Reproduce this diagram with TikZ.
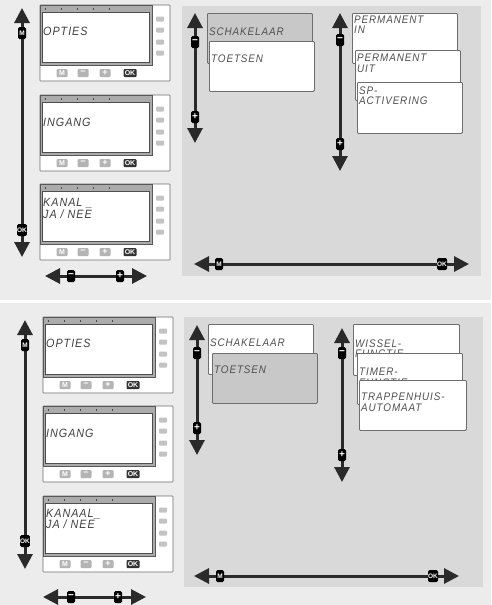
\documentclass[tikz,border=0pt]{standalone}
\usepackage{fontspec}
\setsansfont{Liberation Sans}
\newfontfamily\lcdfont[LetterSpace=8,FakeStretch=0.9]{Liberation Sans}
\usetikzlibrary{arrows.meta}

\definecolor{pagegray}{HTML}{ECECEC}
\definecolor{panelgray}{HTML}{D9D9D9}
\definecolor{boxgray}{HTML}{C8C8C8}
\definecolor{framegray}{HTML}{6E6E6E}
\definecolor{inkgray}{HTML}{505050}
\definecolor{bezelgray}{HTML}{ABABAB}
\definecolor{keygray}{HTML}{B4B4B4}
\definecolor{arrowdark}{HTML}{2A2A2A}

\tikzset{
  navline/.style={line width=3pt, draw=arrowdark,
    {Triangle[width=15pt,length=15pt]}-{Triangle[width=15pt,length=15pt]}},
  keytag/.style={fill=black, rounded corners=1.5pt, minimum width=8pt,
    minimum height=12pt, inner sep=0pt, text=white,
    font=\sffamily\bfseries\fontsize{6.5}{6.5}\selectfont},
  signtag/.style={keytag, font=\sffamily\bfseries\fontsize{10}{10}\selectfont},
  menubox/.style={draw=framegray, line width=0.8pt, fill=white,
    rounded corners=1pt, minimum width=105pt, minimum height=50pt,
    anchor=north west, inner sep=0pt},
  menutext/.style={anchor=west, inner sep=0pt, text=inkgray, align=left,
    font=\lcdfont\itshape\fontsize{11}{10.5}\selectfont},
  lcdtext/.style={anchor=west, inner sep=0pt, text=inkgray!80!black, align=left,
    font=\lcdfont\itshape\fontsize{12}{11.5}\selectfont},
  unitframe/.style={draw=framegray, line width=0.6pt, fill=white, rounded corners=0.5pt},
  bezel/.style={draw=framegray!80!black, line width=0.7pt, fill=bezelgray},
  screen/.style={draw=framegray!70!black, line width=0.5pt, fill=white},
  tickmark/.style={draw=black!70, line width=0.6pt},
  sidekey/.style={fill=keygray!80, rounded corners=1pt},
  unitkey/.style={fill=keygray, rounded corners=1pt, minimum width=11pt,
    minimum height=8pt, inner sep=0pt, text=white,
    font=\sffamily\bfseries\fontsize{7}{7}\selectfont}
}

% one control unit: name, origin, text height, screen text
\newcommand{\ctrlunit}[4]{%
  \begin{scope}[shift={#2}]
    \draw[unitframe] (0,0) rectangle (130,76);
    \draw[bezel] (0,0) rectangle (112,60);
    \draw[screen] (2,7) rectangle (109,57);
    \foreach \t in {5,21,37,53,69} \draw[tickmark] (\t,3) -- (\t,5);
    \foreach \b in {14,25,37,48} \fill[sidekey] (116,\b-2.5) rectangle (124,\b+2.5);
    \node[unitkey] (#1-m) at (22,68) {M};
    \node[unitkey, font=\sffamily\bfseries\fontsize{9}{9}\selectfont] (#1-minus) at (43,68) {−};
    \node[unitkey, font=\sffamily\bfseries\fontsize{9}{9}\selectfont] (#1-plus) at (65,68) {+};
    \node[unitkey, fill=black!80, minimum width=13pt] (#1-ok) at (90,68) {OK};
    \node[lcdtext] (#1-text) at (3,#3) {#4};
  \end{scope}}

\begin{document}
\begin{tikzpicture}[x=1pt,y=-1pt]
  % page and panels
  \fill[pagegray] (0,0) rectangle (491,605);
  \fill[white] (0,299.5) rectangle (491,302.5);
  \fill[panelgray] (182,6) rectangle (481,276);
  \fill[panelgray] (184,317) rectangle (483,587);
  \useasboundingbox (0,0) rectangle (491,605);

  % ---- upper half ----
  \ctrlunit{ua}{(40,5)}{26}{OPTIES}
  \ctrlunit{ub}{(40,95)}{27}{INGANG}
  \ctrlunit{uc}{(40,184)}{24.5}{KANAL~\_\\JA / NEE}

  \coordinate (ul-top) at (22,8);
  \coordinate (ul-bot) at (22,257);
  \draw[navline] (ul-top) -- (ul-bot);
  \node[keytag] (ul-m) at (22,33) {M};
  \node[keytag, minimum width=9pt] (ul-ok) at (22,230) {OK};

  \coordinate (uh-left) at (45,276);
  \coordinate (uh-right) at (147,276);
  \draw[navline] (uh-left) -- (uh-right);
  \node[signtag] (uh-minus) at (71,276) {−};
  \node[signtag] (uh-plus) at (120,276) {+};

  \node[menubox, fill=boxgray] (u-schak) at (207,13) {};
  \node[menutext] at (209,32) {SCHAKELAAR};
  \node[menubox] (u-toets) at (209,41) {};
  \node[menutext] at (211,59) {TOETSEN};

  \node[menubox] (u-permin) at (352,13) {};
  \node[menutext] at (354,24.5) {PERMANENT\\IN};
  \node[menubox] (u-permuit) at (355,50) {};
  \node[menutext] at (357,63.5) {PERMANENT\\UIT};
  \node[menubox, minimum height=51pt] (u-spact) at (357,82) {};
  \node[menutext] at (359,95.5) {SP-\\ACTIVERING};

  \coordinate (uv1-top) at (195,13);
  \coordinate (uv1-bot) at (195,143);
  \draw[navline] (uv1-top) -- (uv1-bot);
  \node[signtag] (uv1-minus) at (195,42) {−};
  \node[signtag] (uv1-plus) at (195,117) {+};

  \coordinate (uv2-top) at (340,13);
  \coordinate (uv2-bot) at (340,171);
  \draw[navline] (uv2-top) -- (uv2-bot);
  \node[signtag] (uv2-minus) at (340,40) {−};
  \node[signtag] (uv2-plus) at (340,144) {+};

  \coordinate (uh2-left) at (194,264);
  \coordinate (uh2-right) at (469,264);
  \draw[navline] (uh2-left) -- (uh2-right);
  \node[keytag] (uh2-m) at (219,264) {M};
  \node[keytag, minimum width=10pt] (uh2-ok) at (442,264) {OK};

  % ---- lower half ----
  \ctrlunit{la}{(43,317)}{26}{OPTIES}
  \ctrlunit{lb}{(43,406)}{27}{INGANG}
  \ctrlunit{lc}{(43,496)}{23}{KANAAL\_\\JA / NEE}

  \coordinate (ll-top) at (25,320);
  \coordinate (ll-bot) at (25,569);
  \draw[navline] (ll-top) -- (ll-bot);
  \node[keytag] (ll-m) at (25,345) {M};
  \node[keytag, minimum width=9pt] (ll-ok) at (25,541) {OK};

  \coordinate (lh-left) at (43,597);
  \coordinate (lh-right) at (146,597);
  \draw[navline] (lh-left) -- (lh-right);
  \node[signtag] (lh-minus) at (71,597) {−};
  \node[signtag] (lh-plus) at (118,597) {+};

  \node[menubox] (l-schak) at (208,324) {};
  \node[menutext] at (210,343) {SCHAKELAAR};
  \node[menubox, fill=boxgray] (l-toets) at (212,353) {};
  \node[menutext] at (214,370) {TOETSEN};

  \node[menubox, minimum width=106pt, minimum height=51pt] (l-wissel) at (353,324) {};
  \node[menutext] at (355,348.5) {WISSEL-\\FUNCTIE};
  \node[menubox, minimum height=51pt] (l-timer) at (357,353) {};
  \node[menutext] at (359,377.5) {TIMER-\\FUNCTIE};
  \node[menubox, minimum width=107pt, minimum height=50pt] (l-trap) at (359,380) {};
  \node[menutext] at (361,402) {TRAPPENHUIS-\\AUTOMAAT};

  \coordinate (lv1-top) at (197,325);
  \coordinate (lv1-bot) at (197,455);
  \draw[navline] (lv1-top) -- (lv1-bot);
  \node[signtag] (lv1-minus) at (197,353) {−};
  \node[signtag] (lv1-plus) at (197,428) {+};

  \coordinate (lv2-top) at (342,328);
  \coordinate (lv2-bot) at (342,482);
  \draw[navline] (lv2-top) -- (lv2-bot);
  \node[signtag] (lv2-minus) at (342,353) {−};
  \node[signtag] (lv2-plus) at (342,455) {+};

  \coordinate (lh2-left) at (194,576);
  \coordinate (lh2-right) at (459,576);
  \draw[navline] (lh2-left) -- (lh2-right);
  \node[keytag] (lh2-m) at (220,576) {M};
  \node[keytag, minimum width=10pt] (lh2-ok) at (433,576) {OK};
\end{tikzpicture}
\end{document}
